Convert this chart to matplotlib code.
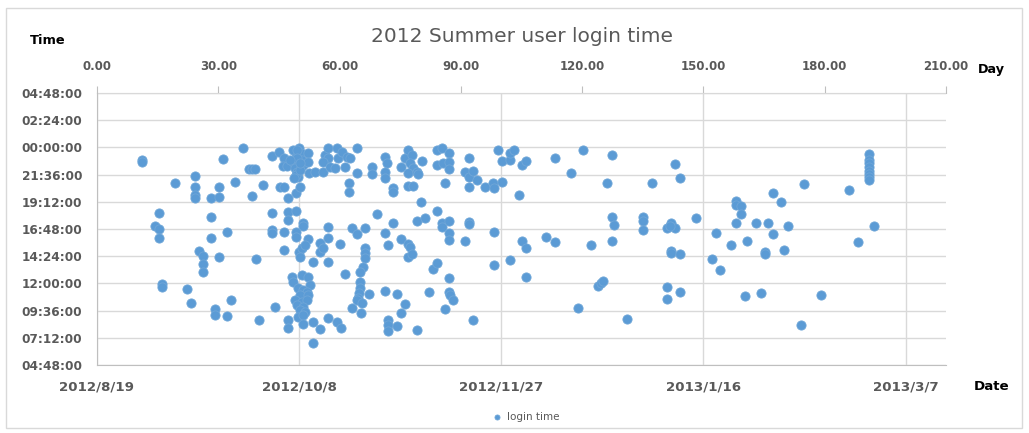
import matplotlib
matplotlib.use("Agg")
import matplotlib.pyplot as plt
from matplotlib.ticker import FuncFormatter
from matplotlib.patches import Rectangle
import datetime as dt

plt.rcParams['font.family'] = ['DejaVu Sans']

title = "2012 Summer user login time"
series_name = "login time"
start_date = dt.date(2012, 8, 19)
day_ticks = [0, 30, 60, 90, 120, 150, 180, 210]
date_tick_days = [0, 50, 100, 150, 200]
time_ticks = [4.8, 7.2, 9.6, 12.0, 14.4, 16.8, 19.2, 21.6, 24.0, 26.4, 28.8]

# day offset since 2012/8/19 and login time (hours of day; >24 = after midnight)
days = [
    11.1, 11.1, 15.3, 14.3, 15.4, 15.3, 16.1, 16.1, 22.2, 23.3, 19.3, 24.2, 24.2, 24.2, 24.2, 28.2,
    30.2, 30.2, 28.3, 28.3, 32.2, 25.3, 26.2, 26.1, 26.2, 30.2, 33.2, 29.3, 29.3, 32.2, 40.1, 44.1,
    31.2, 36.1, 34.2, 38.3, 41.1, 37.5, 38.3, 39.2, 43.3, 45.1, 45.3, 46.3, 43.3, 43.3, 43.3, 39.3,
    46.3, 46.1, 46.9, 48.6, 50.0, 50.4, 49.2, 48.6, 49.8, 50.6, 49.0, 49.4, 49.8, 49.2, 51.0, 52.3,
    52.3, 52.5, 53.9, 56.0, 56.4, 57.2, 57.2, 56.0, 57.6, 58.9, 59.3, 59.7, 60.5, 61.3, 61.8, 62.6,
    64.2, 64.2, 62.3, 62.3, 68.1, 68.1, 47.3, 49.2, 50.2, 49.5, 49.5, 50.2, 48.7, 47.7, 50.2,
    47.3, 49.2, 47.3, 51.0, 51.0, 46.3, 49.2, 49.2, 52.3, 46.3, 50.0, 50.6, 51.5, 50.2, 53.4, 55.2,
    55.2, 56.0, 57.2, 57.2, 60.1, 57.2, 63.0, 64.2, 66.3, 69.2, 66.3, 66.3, 66.3, 65.9, 65.1, 61.3,
    48.2, 48.6, 50.6, 52.3, 52.7, 49.8, 51.0, 51.9, 50.2, 52.3, 49.0, 50.6, 51.9, 49.4, 51.0, 50.2,
    51.5, 49.8, 51.0, 47.3, 47.3, 51.0, 53.4, 55.2, 57.2, 59.3, 60.3, 53.4, 63.0, 65.1, 65.1, 64.9,
    64.6, 64.2, 65.5, 65.2, 67.4,
    71.2, 71.7, 71.2, 71.2, 73.1, 73.1, 75.1, 76.2, 77.0, 77.8, 77.3, 78.2, 77.0, 79.1, 79.5, 80.3,
    77.0, 78.1, 80.1, 84.0, 85.3, 87.1, 84.0, 85.7, 87.1, 87.1, 86.1, 92.1, 91.0, 92.1, 92.1, 93.9,
    93.1, 96.0, 98.0, 98.2, 100.1, 99.3, 100.1, 102.2, 102.2, 103.2, 105.0, 106.2, 104.3, 113.3,
    117.2, 120.1, 127.3, 126.1, 137.2, 143.0, 144.1,
    73.1, 71.2, 72.1, 75.2, 77.0, 77.3, 77.0, 77.8, 79.1, 81.2, 84.1, 85.3, 85.3, 87.1, 87.1, 87.1,
    91.0, 92.1, 92.1, 83.0, 84.1, 87.1, 98.2, 105.0, 106.1, 111.1, 113.3, 122.2, 127.3, 128.0, 127.3,
    98.2, 102.2, 106.1, 135.1, 135.1, 135.1,
    71.2, 74.3, 76.3, 75.2, 72.1, 72.1, 72.1, 74.2, 79.2, 82.1, 87.1, 87.2, 88.1, 86.1, 93.1, 119.0,
    124.0, 124.6, 125.2, 131.2,
    141.1, 141.9, 143.0, 141.7, 148.2, 142.0, 142.0, 144.1, 141.1, 144.1, 141.1, 152.0, 154.1, 153.1,
    156.9, 160.9, 158.1, 158.1, 159.2, 159.2, 158.1, 163.1, 166.0, 165.2, 165.2, 160.2, 164.2, 167.1,
    169.1, 174.9, 171.0, 167.1, 170.0, 179.1, 174.2, 186.1, 190.9, 190.9, 190.9, 190.9, 190.9, 190.9,
    190.9, 190.9, 188.2, 192.1,
]
login_hours = [
    22.89, 22.71, 18.18, 17.09, 16.80, 15.98, 11.95, 11.66, 11.48, 10.24, 20.89, 21.50, 20.53, 19.80, 19.56, 19.51,
    20.48, 19.60, 17.86, 15.98, 16.53, 14.86, 14.42, 13.74, 12.98, 14.36, 10.51, 9.71, 9.21, 9.10, 8.77, 9.94,
    22.95, 23.97, 20.92, 19.69, 20.68, 22.07, 22.12, 22.12, 23.21, 23.62, 20.53, 20.53, 18.18, 16.71, 16.42, 14.18,
    23.04, 22.39, 22.39, 23.77, 23.97, 23.48, 23.18, 22.74, 22.74, 22.89, 22.16, 21.86, 21.41, 21.56, 22.45, 23.48,
    22.74, 21.71, 21.86, 21.86, 23.33, 23.92, 23.04, 22.74, 22.30, 22.16, 23.92, 23.04, 23.62, 22.30, 23.18, 23.04,
    23.92, 21.71, 20.83, 20.04, 22.30, 21.63, 19.51, 19.95, 20.53, 23.77, 23.06, 22.00, 21.30, 22.89, 22.62,
    18.33, 18.39, 17.59, 17.30, 17.09, 16.51, 16.56, 16.12, 15.92, 14.95, 14.80, 15.10, 15.39, 14.36, 13.86, 15.54,
    14.80, 15.10, 17.00, 16.03, 15.48, 13.91, 16.86, 16.33, 16.86, 18.12, 15.10, 14.66, 14.21, 13.47, 13.03, 12.80,
    12.59, 12.15, 12.74, 12.59, 11.86, 11.57, 11.42, 11.27, 10.98, 10.98, 10.53, 10.38, 10.53, 10.09, 9.94, 9.65,
    9.50, 9.06, 9.21, 8.77, 8.04, 8.39, 8.62, 7.98, 8.92, 8.57, 8.04, 6.71, 9.86, 12.15, 11.57, 11.13,
    10.69, 10.53, 10.24, 9.36, 11.04,
    23.18, 22.60, 21.86, 21.27, 20.39, 20.09, 22.24, 23.04, 23.74, 23.29, 22.60, 22.16, 21.71, 21.86, 21.67, 22.78,
    20.62, 20.62, 19.21, 23.74, 23.92, 23.55, 22.49, 22.60, 22.74, 22.11, 20.89, 23.08, 21.86, 21.41, 20.53, 21.10,
    21.94, 20.51, 20.83, 20.39, 20.97, 23.81, 22.82, 22.86, 23.48, 23.81, 22.49, 22.78, 19.76, 23.06,
    21.71, 23.81, 23.33, 20.89, 20.89, 22.51, 21.27,
    17.30, 16.49, 15.36, 15.89, 15.49, 15.24, 14.31, 14.57, 17.53, 17.75, 18.43, 17.30, 16.96, 17.49, 16.46, 15.83,
    15.77, 17.42, 17.20, 13.25, 13.77, 12.45, 16.55, 15.77, 15.10, 16.07, 15.68, 15.43, 17.88, 17.15, 15.77,
    13.61, 14.05, 12.58, 17.88, 17.48, 16.71,
    11.33, 11.05, 10.16, 9.36, 8.80, 8.33, 7.82, 8.26, 7.89, 11.27, 11.27, 10.98, 10.53, 9.72, 8.74, 9.86,
    11.75, 12.01, 12.24, 8.83,
    16.86, 17.30, 16.91, 17.09, 17.74, 14.86, 14.65, 14.57, 11.66, 11.27, 10.61, 14.13, 13.18, 16.46,
    15.41, 15.77, 19.24, 18.92, 18.83, 18.11, 17.30, 17.30, 17.30, 14.80, 14.59, 10.87, 11.18, 19.95,
    19.20, 20.74, 17.09, 16.36, 14.95, 10.98, 8.33, 20.24, 23.42, 22.90, 22.65, 22.25, 21.95, 21.65,
    21.40, 21.12, 15.68, 17.09,
]

TICK_COLOR = '#595959'
GRID_COLOR = '#d9d9d9'
AXIS_COLOR = '#bfbfbf'
POINT_COLOR = '#5B9BD5'

W, H = 1029, 433
fig = plt.figure(figsize=(W / 100, H / 100), dpi=100)
fig.patch.set_facecolor('white')
fig.patches.append(Rectangle((6 / W, 5 / H), (1022 - 6) / W, (428 - 8) / H,
                             transform=fig.transFigure, fill=False,
                             edgecolor=GRID_COLOR, lw=1))

ax = fig.add_axes([97 / W, 1 - 365 / H, 849 / W, 272 / H])
sc = ax.scatter(days, login_hours, s=44, color=POINT_COLOR, edgecolors='#6fa6d8',
                linewidths=0.6, zorder=3, label=series_name)
ax.set_xlim(0, 210)
ax.set_ylim(4.8, 28.8)


def fmt_time(v, pos):
    m = int(round(v * 60)) % 1440
    return f"{m // 60:02d}:{m % 60:02d}:00"


def fmt_date(v, pos):
    d = start_date + dt.timedelta(days=int(round(v)))
    return f"{d.year}/{d.month}/{d.day}"


ax.set_yticks(time_ticks)
ax.yaxis.set_major_formatter(FuncFormatter(fmt_time))
ax.set_xticks(date_tick_days)
ax.xaxis.set_major_formatter(FuncFormatter(fmt_date))
ax.grid(True, color=GRID_COLOR, lw=1)
ax.set_axisbelow(True)
for s in ['top', 'right']:
    ax.spines[s].set_visible(False)
for s in ['left', 'bottom']:
    ax.spines[s].set_color(AXIS_COLOR)
ax.tick_params(axis='y', length=0, pad=10.5, labelcolor=TICK_COLOR, labelsize=8.7)
ax.tick_params(axis='x', length=0, pad=11.5, labelcolor=TICK_COLOR, labelsize=9.6)
for lbl in ax.get_xticklabels() + ax.get_yticklabels():
    lbl.set_fontweight('bold')

top = ax.secondary_xaxis('top')
top.set_xticks(day_ticks)
top.xaxis.set_major_formatter(FuncFormatter(lambda v, p: f"{v:.2f}"))
top.tick_params(direction='out', length=5, color=AXIS_COLOR, labelcolor=TICK_COLOR,
                labelsize=8.5, pad=9.5)
for s in top.spines.values():
    s.set_color(AXIS_COLOR)
for lbl in top.get_xticklabels():
    lbl.set_fontweight('bold')

fig.text(522 / W, 1 - 36 / H, title, ha='center', va='center', fontsize=14.5,
         color=TICK_COLOR)
fig.text(30 / W, 1 - 40 / H, "Time", ha='left', va='center', fontsize=9.4,
         fontweight='bold', color='black')
fig.text(978 / W, 1 - 70 / H, "Day", ha='left', va='center', fontsize=9.2,
         fontweight='bold', color='black')
fig.text(974 / W, 1 - 386 / H, "Date", ha='left', va='center', fontsize=9.6,
         fontweight='bold', color='black')

fig.legend(handles=[sc], labels=[series_name], loc='center',
           bbox_to_anchor=(523 / W, 1 - 417 / H), frameon=False, fontsize=7.5,
           markerscale=0.55, handletextpad=0.0, labelcolor=TICK_COLOR)

fig.savefig('out.png', dpi=100)
